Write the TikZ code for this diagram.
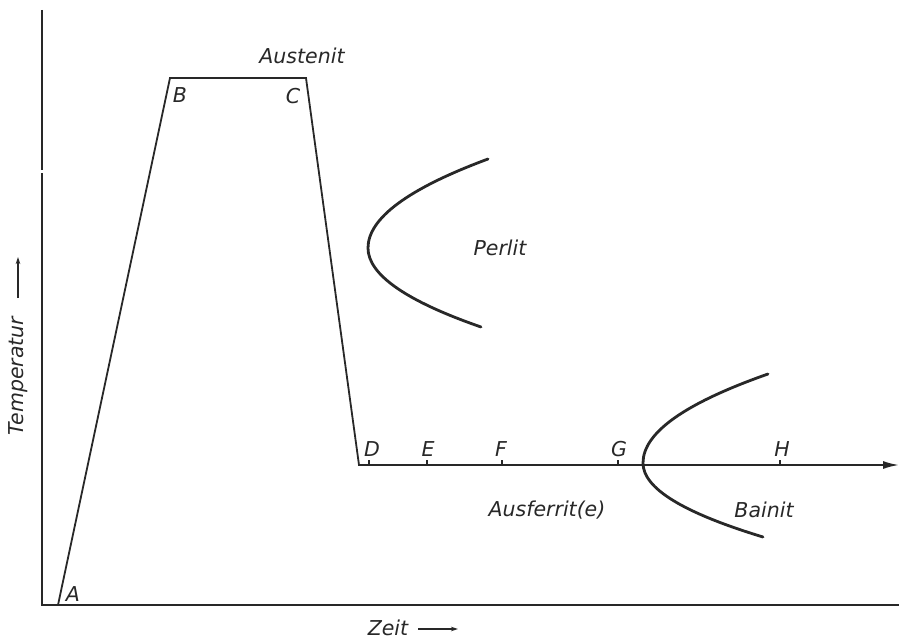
\documentclass[tikz,border=0pt]{standalone}
\usepackage{fontspec}
\setmainfont{DejaVu Sans}
\usetikzlibrary{arrows.meta}
\definecolor{ink}{RGB}{40,40,40}
\begin{document}
\begin{tikzpicture}[x=1pt,y=-1pt,
  axisline/.style={ink, line width=2pt, line join=miter},
  pathline/.style={ink, line width=1.8pt, line join=miter},
  curveline/.style={ink, line width=2.8pt, line cap=round},
  lbl/.style={text=ink, font=\fontsize{20.5}{24}\selectfont\itshape, inner sep=0pt},
  tickmark/.style={ink, line width=1.5pt},
  smallarrow/.style={ink, line width=1.3pt, -{Stealth[length=7pt,width=4.5pt]}}]
\useasboundingbox (0,0) rectangle (900,642);
% axes
\coordinate (ytop) at (42,10);
\coordinate (ygap1) at (42,170);
\coordinate (ygap2) at (42,173);
\coordinate (origin) at (42,605);
\coordinate (xend) at (899,605);
\draw[axisline] (ytop) -- (ygap1);
\draw[axisline] (ygap2) -- (origin) -- (xend);
% process path
\coordinate (pA) at (58,605);
\coordinate (pB) at (170,78);
\coordinate (pC) at (306,78);
\coordinate (pD) at (359,465);
\coordinate (pEnd) at (899,465);
\draw[pathline, -{Latex[length=16pt,width=8pt]}] (pA) -- (pB) -- (pC) -- (pD) -- (pEnd);
% ticks
\foreach \n/\x in {tD/369,tE/427,tF/502,tG/618,tH/780}{
  \coordinate (\n) at (\x,465);
  \coordinate (\n u) at (\x,460);
  \draw[tickmark] (\n) -- (\n u);
}
% labels
\node[lbl] (A) at (73,594) {A};
\node[lbl] (B) at (180,95) {B};
\node[lbl] (C) at (293,96) {C};
\node[lbl] (D) at (372,449) {D};
\node[lbl] (E) at (428,449) {E};
\node[lbl] (F) at (501,449) {F};
\node[lbl] (G) at (619,449) {G};
\node[lbl] (H) at (782,449) {H};
\node[lbl] (austenit) at (302,56) {Austenit};
\node[lbl] (perlit) at (500,248) {Perlit};
\node[lbl] (ausferrit) at (547,510) {Ausferrit(e)};
\node[lbl] (bainit) at (764,510) {Bainit};
% curves
\draw[curveline] (488,159) .. controls (408,188.7) and (368,218.3) .. (368,248)
  .. controls (368,274.3) and (405.3,300.7) .. (481,327);
\draw[curveline] (768,374) .. controls (684.7,403.3) and (643,432.7) .. (643,463)
  .. controls (643,488.3) and (683,512.7) .. (763,537);
% axis titles
\node[lbl, rotate=90] (temp) at (18,376) {Temperatur};
\coordinate (tempA) at (18,298);
\coordinate (tempB) at (18,257);
\draw[smallarrow] (tempA) -- (tempB);
\node[lbl] (zeit) at (388,628) {Zeit};
\coordinate (zeitA) at (418,629);
\coordinate (zeitB) at (458,629);
\draw[smallarrow] (zeitA) -- (zeitB);
\end{tikzpicture}
\end{document}
